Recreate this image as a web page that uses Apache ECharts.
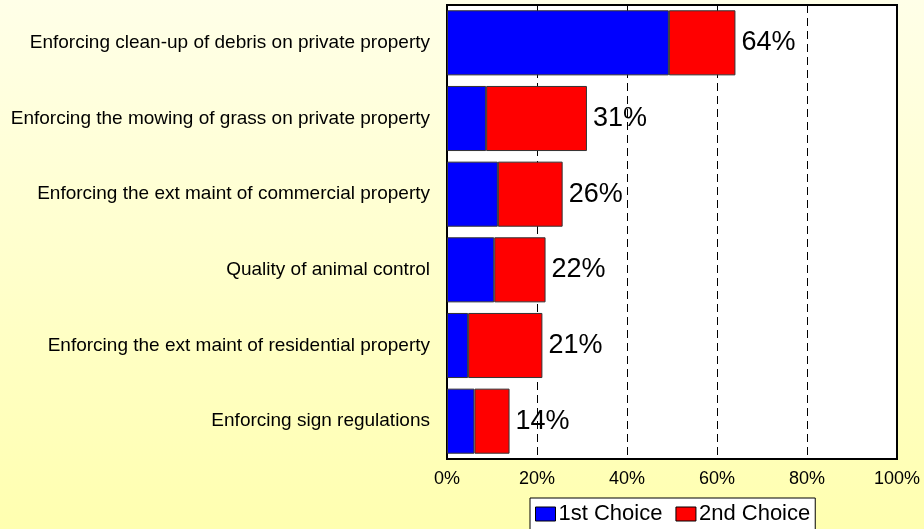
<!DOCTYPE html>
<html>
<head>
<meta charset="utf-8">
<script src="https://cdn.jsdelivr.net/npm/echarts@6/dist/echarts.min.js"></script>
<style>
html,body{margin:0;padding:0;}
#chart{width:924px;height:529px;}
</style>
</head>
<body>
<div id="chart"></div>
<script>
var categories = [
  "Enforcing clean-up of debris on private property",
  "Enforcing the mowing of grass on private property",
  "Enforcing the ext maint of commercial property",
  "Quality of animal control",
  "Enforcing the ext maint of residential property",
  "Enforcing sign regulations"
];
var firstChoice = [49.3, 8.7, 11.3, 10.5, 4.7, 6.1];
var secondChoice = [14.8, 22.4, 14.4, 11.4, 16.5, 7.8];
var totals = [64, 31, 26, 22, 21, 14];
var xTicks = [0, 20, 40, 60, 80, 100];

var font = "'Liberation Sans', Arial, sans-serif";
var chart = echarts.init(document.getElementById('chart'));
chart.setOption({
  animation: false,
  backgroundColor: new echarts.graphic.LinearGradient(0, 0, 0, 1, [
    {offset: 0, color: '#FFFFE8'},
    {offset: 1, color: '#FFFFB0'}
  ]),
  textStyle: {fontFamily: font},
  grid: {
    left: 447, right: 27, top: 5, bottom: 70,
    show: true, backgroundColor: '#FFFFFF', borderColor: '#000000', borderWidth: 2
  },
  legend: {
    top: 498, left: 530,
    icon: 'rect',
    itemWidth: 20, itemHeight: 14, itemGap: 13,
    backgroundColor: '#FFFFFF', borderColor: '#000000', borderWidth: 1,
    padding: [5, 5, 10, 5], borderRadius: 0,
    textStyle: {fontSize: 22, color: '#000000', fontFamily: font, padding: [0, 0, 0, -2]},
    data: [
      {name: '1st Choice', itemStyle: {borderColor: '#000000', borderWidth: 1}},
      {name: '2nd Choice', itemStyle: {borderColor: '#000000', borderWidth: 1}}
    ]
  },
  xAxis: {
    type: 'value', min: xTicks[0], max: xTicks[xTicks.length - 1], interval: 20,
    axisLine: {show: true, lineStyle: {color: '#000000', width: 2}},
    axisTick: {show: false},
    axisLabel: {formatter: '{value}%', fontSize: 18, color: '#000000', margin: 11, fontFamily: font},
    splitLine: {show: true, lineStyle: {color: '#000000', type: [8, 5], width: 1}}
  },
  yAxis: {
    type: 'category', data: categories, inverse: true,
    axisLine: {show: true, lineStyle: {color: '#000000', width: 2}},
    axisTick: {show: false},
    axisLabel: {fontSize: 19, color: '#000000', margin: 17, fontFamily: font}
  },
  series: [
    {
      name: '1st Choice', type: 'bar', stack: 'total', data: firstChoice,
      barCategoryGap: '14%',
      itemStyle: {color: '#0000FF', borderColor: '#333333', borderWidth: 1}
    },
    {
      name: '2nd Choice', type: 'bar', stack: 'total', data: secondChoice,
      itemStyle: {color: '#FF0000', borderColor: '#333333', borderWidth: 1},
      label: {
        show: true, position: 'right', distance: 6,
        fontSize: 27, color: '#000000', fontFamily: font,
        formatter: function (p) { return totals[p.dataIndex] + '%'; }
      }
    }
  ]
});
</script>
</body>
</html>
